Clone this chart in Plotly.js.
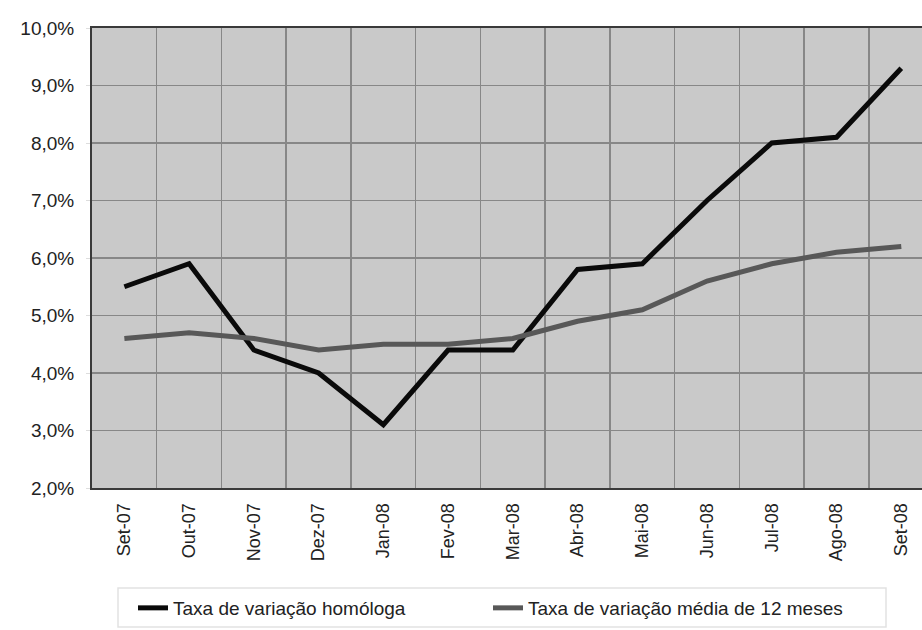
<!DOCTYPE html>
<html>
<head>
<meta charset="utf-8">
<script src="https://cdn.plot.ly/plotly-3.0.1.min.js"></script>
<style>html,body{margin:0;padding:0;background:#fff;}#chart{width:922px;height:630px;}</style>
</head>
<body>
<div id="chart"></div>
<script>
const months = ["Set-07","Out-07","Nov-07","Dez-07","Jan-08","Fev-08","Mar-08","Abr-08","Mai-08","Jun-08","Jul-08","Ago-08","Set-08"];
const homologa = [5.5, 5.9, 4.4, 4.0, 3.1, 4.4, 4.4, 5.8, 5.9, 7.0, 8.0, 8.1, 9.3];
const media12 = [4.6, 4.7, 4.6, 4.4, 4.5, 4.5, 4.6, 4.9, 5.1, 5.6, 5.9, 6.1, 6.2];
const seriesNames = ["Taxa de variação homóloga", "Taxa de variação média de 12 meses"];

const fam = "Liberation Sans, Arial, sans-serif";
const W = 922, H = 630, ML = 92, MT = 28, MB = 142;
const PW = W - ML, PH = H - MT - MB;
const px2x = p => (p - ML) / PW;
const px2y = p => (H - MB - p) / PH;

const data = [
  {x: months, y: homologa, name: seriesNames[0], type: "scatter", mode: "lines",
   line: {color: "#0a0a0a", width: 5}},
  {x: months, y: media12, name: seriesNames[1], type: "scatter", mode: "lines",
   line: {color: "#585858", width: 5}}
];

const layout = {
  width: W, height: H,
  margin: {l: ML, r: 0, t: MT, b: MB, autoexpand: false},
  paper_bgcolor: "#ffffff",
  plot_bgcolor: "#c9c9c9",
  font: {family: fam, size: 18, color: "#222"},
  separators: ",.",
  showlegend: true,
  xaxis: {
    type: "category",
    range: [-0.5, 12.32],
    tickson: "boundaries",
    showgrid: true, gridcolor: "#878787", gridwidth: 1.5,
    showline: true, linecolor: "#3a3a3a", linewidth: 2, mirror: true,
    ticks: "",
    tickangle: -90,
    ticklabelstandoff: 6,
    tickfont: {family: fam, size: 18, color: "#222"},
    zeroline: false,
    automargin: false
  },
  yaxis: {
    range: [2, 10],
    dtick: 1, tick0: 2,
    tickformat: ".1f", ticksuffix: "%",
    showgrid: true, gridcolor: "#878787", gridwidth: 1.5,
    showline: true, linecolor: "#3a3a3a", linewidth: 2, mirror: false,
    ticks: "outside", ticklen: 4, tickcolor: "#ddd",
    ticklabelstandoff: 8,
    tickfont: {family: fam, size: 19, color: "#222"},
    zeroline: false,
    automargin: false
  },
  shapes: [
    {type: "rect", xref: "paper", yref: "paper",
     x0: px2x(118), x1: px2x(886),
     y0: px2y(627), y1: px2y(588),
     line: {color: "#e2e2e2", width: 1.5}, fillcolor: "rgba(0,0,0,0)", layer: "below"}
  ],
  legend: {
    orientation: "h",
    x: px2x(133), xanchor: "left",
    y: px2y(608), yanchor: "middle",
    bgcolor: "rgba(0,0,0,0)", borderwidth: 0,
    font: {family: fam, size: 19, color: "#222"},
    entrywidth: 310, entrywidthmode: "pixels",
    itemwidth: 30
  }
};

Plotly.newPlot("chart", data, layout, {displayModeBar: false, staticPlot: true});
</script>
</body>
</html>
